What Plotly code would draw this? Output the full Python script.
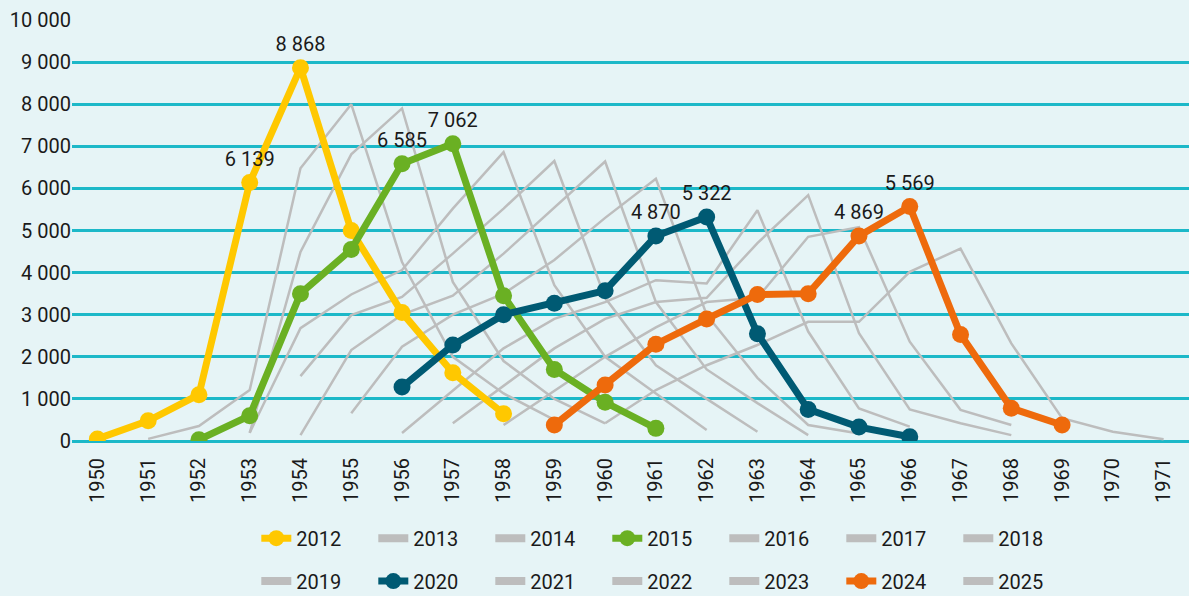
import plotly.graph_objects as go

# birth years on the x axis
years = [str(y) for y in range(1950, 1972)]

# first birth year of each series, then the values
start_2012, v_2012 = 1950, [50, 480, 1100, 6139, 8868, 5000, 3050, 1620, 650]
start_2013, v_2013 = 1951, [50, 356, 1210, 6480, 8000, 4250, 2000, 1130, 500]
start_2014, v_2014 = 1953, [190, 4490, 6810, 7900, 3780, 1900, 1000, 420]
start_2015, v_2015 = 1952, [30, 600, 3500, 4550, 6585, 7062, 3450, 1700, 920, 300]
start_2016, v_2016 = 1953, [200, 2680, 3480, 4060, 5520, 6860, 3700, 2000, 1130, 260]
start_2017, v_2017 = 1954, [1540, 2990, 3420, 4450, 5520, 6650, 3400, 1800, 1000, 220]
start_2018, v_2018 = 1954, [140, 2160, 3000, 3450, 4450, 5540, 6640, 3300, 1700, 900, 140]
start_2019, v_2019 = 1955, [660, 2240, 3000, 3500, 4300, 5300, 6230, 3000, 1500, 380, 180]
start_2020, v_2020 = 1956, [1280, 2280, 3000, 3270, 3570, 4870, 5322, 2550, 750, 330, 100]
start_2021, v_2021 = 1956, [190, 1200, 2200, 2900, 3300, 3820, 3740, 5480, 2600, 775, 340]
start_2022, v_2022 = 1957, [420, 1300, 2200, 2900, 3300, 3400, 4700, 5840, 2560, 750, 420, 140]
start_2023, v_2023 = 1958, [380, 1200, 2000, 2700, 3300, 3400, 4850, 5080, 2360, 740, 380]
start_2024, v_2024 = 1959, [380, 1330, 2300, 2900, 3480, 3500, 4869, 5569, 2530, 780, 380]
start_2025, v_2025 = 1960, [420, 1210, 1800, 2280, 2830, 2830, 4020, 4570, 2320, 540, 220, 40]

series = {
    "2012": (start_2012, v_2012), "2013": (start_2013, v_2013),
    "2014": (start_2014, v_2014), "2015": (start_2015, v_2015),
    "2016": (start_2016, v_2016), "2017": (start_2017, v_2017),
    "2018": (start_2018, v_2018), "2019": (start_2019, v_2019),
    "2020": (start_2020, v_2020), "2021": (start_2021, v_2021),
    "2022": (start_2022, v_2022), "2023": (start_2023, v_2023),
    "2024": (start_2024, v_2024), "2025": (start_2025, v_2025),
}

highlight = {"2012": "#FFC800", "2015": "#6AB023", "2020": "#005A73", "2024": "#EE6A0C"}
gray = "#BDBDBD"
row1 = ["2012", "2013", "2014", "2015", "2016", "2017", "2018"]

fig = go.Figure()

# grey series first so the coloured ones sit on top
for name, (start, vals) in series.items():
    if name in highlight:
        continue
    xs = [str(start + i) for i in range(len(vals))]
    leg = "legend" if name in row1 else "legend2"
    fig.add_trace(go.Scatter(x=xs, y=vals, mode="lines", name=name,
                             line=dict(color=gray, width=2.5),
                             legendgroup=name, showlegend=False, hoverinfo="skip"))
    # thick legend sample
    fig.add_trace(go.Scatter(x=[None], y=[None], mode="lines", name=name,
                             line=dict(color=gray, width=8),
                             legendgroup=name, legend=leg, legendrank=int(name)))

for name, color in highlight.items():
    start, vals = series[name]
    xs = [str(start + i) for i in range(len(vals))]
    top2 = sorted(vals)[-2:]
    labels = ["%{y:,}" if v in top2 else "" for v in vals]
    leg = "legend" if name in row1 else "legend2"
    fig.add_trace(go.Scatter(x=xs, y=vals, mode="lines+markers+text", name=name,
                             line=dict(color=color, width=7),
                             marker=dict(color=color, size=17),
                             texttemplate=labels, textposition="top center",
                             textfont=dict(size=20, color="#1a1a1a"),
                             legendgroup=name, legend=leg, legendrank=int(name),
                             hoverinfo="skip"))

bg = "#E6F4F6"
grid = "#1CB8C8"
legend_common = dict(orientation="h", xanchor="left", yanchor="middle", yref="container",
                     entrywidth=72, entrywidthmode="pixels", bgcolor="rgba(0,0,0,0)",
                     font=dict(size=20, color="#1a1a1a"), traceorder="normal")

fig.update_layout(
    width=1189, height=596,
    paper_bgcolor=bg, plot_bgcolor=bg,
    margin=dict(l=72, r=0, t=20, b=155),
    font=dict(family="Roboto", size=20, color="#1a1a1a"),
    separators=", ",
    xaxis=dict(type="category", categoryorder="array", categoryarray=years,
               tickvals=years, range=[-0.5, 21.5], tickangle=-90,
               showgrid=False, zeroline=False, showline=False, ticks="",
               ticklabelstandoff=12),
    yaxis=dict(range=[0, 10000], dtick=1000, tickformat=",d",
               showgrid=True, gridcolor=grid, gridwidth=2.5,
               zeroline=True, zerolinecolor=grid, zerolinewidth=3,
               showline=False, ticks=""),
    legend=dict(x=0.165, y=0.097, **legend_common),
    legend2=dict(x=0.165, y=0.025, **legend_common),
    showlegend=True,
)

# drop the default page margin so the chart fills the window
fig.write_html("out.html", config={"displayModeBar": False},
               post_script="document.body.style.margin='0';")
